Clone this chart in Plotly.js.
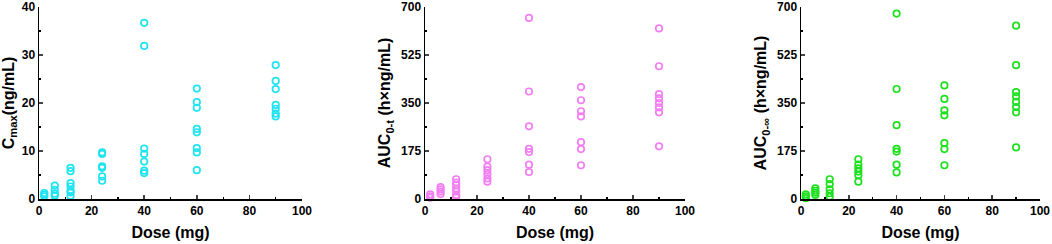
<!DOCTYPE html>
<html><head><meta charset="utf-8">
<script src="https://cdn.plot.ly/plotly-3.0.1.min.js"></script>
<style>html,body{margin:0;padding:0;background:#fff}#c{width:1052px;height:244px}</style>
</head><body><div id="c"></div>
<script>
const doses = [2, 6, 12, 24, 40, 60, 90];
const cmax = {
  2: [1.25, 0.9, 0.55],
  6: [2.8, 1.9, 1.1, 0.7],
  12: [6.5, 5.8, 3.3, 2.6, 1.7, 1.4, 0.6],
  24: [9.7, 9.4, 6.8, 6.5, 4.7, 3.8],
  40: [36.7, 31.9, 10.5, 9.4, 7.8, 5.9, 5.4],
  60: [23.0, 20.2, 19.0, 14.6, 13.9, 10.6, 9.7, 6.0],
  90: [27.9, 24.6, 22.9, 19.6, 18.8, 17.8, 17.2]
};
const auc0t = {
  2: [17, 10, 5],
  6: [43, 35, 27, 18],
  12: [72, 60, 51, 38, 27, 15, 8],
  24: [145, 118, 105, 91, 75, 63],
  40: [660, 392, 265, 183, 171, 125, 98],
  60: [408, 360, 320, 301, 207, 182, 123],
  90: [622, 484, 382, 367, 350, 334, 316, 192]
};
const aucinf = {
  2: [17, 10, 3],
  6: [39, 30, 23, 15],
  12: [72, 54, 35, 21, 8],
  24: [145, 125, 112, 100, 87, 63],
  40: [676, 401, 269, 183, 173, 125, 97],
  60: [414, 365, 323, 305, 204, 182, 123],
  90: [632, 488, 390, 374, 354, 335, 316, 188]
};
const xTicks = [0, 20, 40, 60, 80, 100];
const y1Ticks = [0, 10, 20, 30, 40];
const y2Ticks = [0, 175, 350, 525, 700];

function flatten(obj) {
  const xs = [], ys = [];
  doses.forEach(d => (obj[d] || []).forEach(v => { xs.push(d); ys.push(v); }));
  return {xs, ys};
}
const colors = ['#20e4f0', '#f27ff2', '#1ee01e'];
const sets = [cmax, auc0t, aucinf];
const traces = sets.map((s, i) => {
  const f = flatten(s);
  return {
    x: f.xs, y: f.ys, type: 'scatter', mode: 'markers', cliponaxis: false,
    xaxis: i === 0 ? 'x' : 'x' + (i + 1), yaxis: i === 0 ? 'y' : 'y' + (i + 1),
    marker: {symbol: 'circle-open', size: 6.5, color: colors[i], line: {width: 1.7, color: colors[i]}},
    hoverinfo: 'skip'
  };
});
const font = {family: 'Liberation Sans, Arial, sans-serif', color: '#000'};
function xa(dom) {
  return {
    domain: dom, range: [0, 100], tickvals: xTicks, ticks: 'inside', ticklen: 4, tickwidth: 1.5,
    showline: true, linewidth: 1.5, linecolor: '#000', showgrid: false, zeroline: false,
    minor: {ticks: 'inside', ticklen: 2, dtick: 10, tick0: 0, tickcolor: '#000', tickwidth: 1.2},
    tickfont: {family: font.family, size: 12, color: '#000', weight: 'bold'},
    title: {text: '<b>Dose (mg)</b>', font: {family: font.family, size: 16, color: '#000'}, standoff: 10}
  };
}
function ya(range, ticks, title, minorD) {
  return {
    domain: [0, 1], range: range, tickvals: ticks, ticks: 'inside', ticklen: 4, tickwidth: 1.5,
    showline: true, linewidth: 1.5, linecolor: '#000', showgrid: false, zeroline: false,
    minor: {ticks: 'inside', ticklen: 2, dtick: minorD, tick0: 0, tickcolor: '#000', tickwidth: 1.2},
    tickfont: {family: font.family, size: 12, color: '#000', weight: 'bold'},
    title: {text: title, font: {family: font.family, size: 16, color: '#000'}, standoff: 6}
  };
}
const layout = {
  width: 1052, height: 244, margin: {l: 0, r: 0, t: 7, b: 45},
  paper_bgcolor: '#fff', plot_bgcolor: '#fff', showlegend: false,
  xaxis: Object.assign(xa([39/1052, 302/1052]), {anchor: 'y'}),
  yaxis: Object.assign(ya([0, 40], y1Ticks, '<b>C<sub>max</sub>(ng/mL)</b>', 5), {anchor: 'x'}),
  xaxis2: Object.assign(xa([425/1052, 685/1052]), {anchor: 'y2'}),
  yaxis2: Object.assign(ya([0, 700], y2Ticks, '<b>AUC<sub>0-t</sub> (h×ng/mL)</b>', 87.5), {anchor: 'x2'}),
  xaxis3: Object.assign(xa([801/1052, 1040/1052]), {anchor: 'y3'}),
  yaxis3: Object.assign(ya([0, 700], y2Ticks, '<b>AUC<sub>0-∞</sub> (h×ng/mL)</b>', 87.5), {anchor: 'x3'})
};
Plotly.newPlot('c', traces, layout, {staticPlot: true});
</script></body></html>
